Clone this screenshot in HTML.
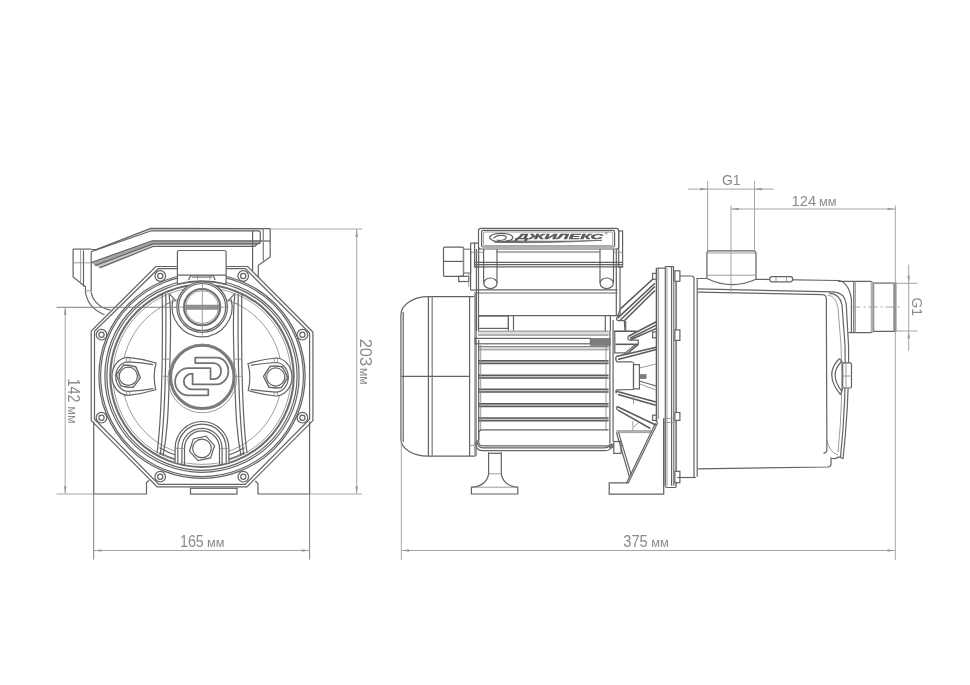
<!DOCTYPE html>
<html><head><meta charset="utf-8"><title>Pump dimensions</title>
<style>
html,body{margin:0;padding:0;background:#fff;}
body{width:970px;height:685px;overflow:hidden;font-family:"Liberation Sans",sans-serif;}
svg{display:block;will-change:transform}
svg *{fill:none}
.m{stroke:#636363;stroke-width:1.2}
.t{stroke:#8a8a8a;stroke-width:.85}
.k{stroke:#5a5a5a;stroke-width:1.55}
.k3{stroke:#6e6e6e;stroke-width:2.1}
.k2{stroke:#777;stroke-width:.8;fill:#9a9a9a}
.f0{fill:#a6a6a6;stroke:none}
.f1{fill:#c8c8c8;stroke:none}
.f2{fill:#dcdcdc;stroke:none}
.g{stroke:#858585;stroke-width:1.3}
.fl{stroke:#9a9a9a;stroke-width:2.8}
.d2{stroke:#808080;stroke-width:1}
.d{stroke:#9c9c9c;stroke-width:.9}
.ar{fill:#9a9a9a;stroke:none}
.ring{stroke:#7a7a7a;stroke-width:3}
.logo{stroke:#727272;stroke-width:1.75;stroke-linejoin:round}
.hatch{fill:#7d7d7d;stroke:#6a6a6a;stroke-width:.6}
.lg{stroke:#666;stroke-width:1.2}
.band{fill:#b0b0b0;stroke:none}
.band2{fill:#8a8a8a;stroke:none}
.blob{fill:#777;stroke:#666;stroke-width:.8}
.lgf{fill:#666;stroke:#666;stroke-width:.7}
.lg2{stroke:#666;stroke-width:.9}
.tx{fill:#8a8a8a;stroke:none;font-family:"Liberation Sans",sans-serif}
text{font-family:"Liberation Sans",sans-serif}
</style></head><body>
<svg width="970" height="685" viewBox="0 0 970 685">
<rect x="0" y="0" width="970" height="685" style="fill:#fff"/>
<g id="leftview">
<path class="m" d="M85.3 291 C86.5 300.5 92.5 310 104.6 314.8" />
<path class="m" d="M91.1 291.5 C92 299.5 98.5 307.5 110.4 310.1" />
<path class="t" d="M85.3 290.8L91.1 290.8"/>
<path class="m" d="M73.1 249.1L73.1 276.9L85.5 286.8L85.5 290.5" />
<path class="m" d="M73.1 249.1L91.5 249.1"/>
<path class="t" d="M80.6 249.1L80.6 284.5"/>
<path class="m" d="M83.5 250.5L83.5 286.7"/>
<path class="m" d="M91.2 251.6L91.2 291.0"/>
<path class="t" d="M73.1 262.8L91.2 262.8"/>
<path class="f0" d="M91.2 262.5L152.3 240.8L260.3 240.8L260.3 243.9L152.8 243.9L95.0 265.6Z" />
<path class="f1" d="M95.0 265.6L152.8 243.9L257.0 243.9L255.0 246.5L153.1 246.5L99.5 267.9Z" />
<path class="f2" d="M96.2 249.6L150.6 228.4L263.3 228.6L263.3 230.8L151.4 230.8L91.2 251.8Z" />
<path class="m" d="M91.5 249.6L96.2 249.6L150.6 228.4L270.2 228.6" />
<path class="m" d="M91.2 251.8 L151.4 230.8 L258 230.8 Q260.3 230.8 260.3 233 L260.3 241.5 Q260.3 243.9 257.8 243.9" />
<path class="m" d="M91.2 262.5L152.3 240.8L260.3 240.8L270.2 241.1" />
<path class="m" d="M95.0 265.6L152.8 243.9L258.0 243.9" />
<path class="m" d="M99.5 267.9L153.1 246.5L255.0 246.5L257.0 243.9" />
<path class="m" d="M270.2 228.6L270.2 257.0L258.3 265.3L258.3 278.0" />
<path class="m" d="M252.6 230.8L252.6 271.0"/>
<path class="g" d="M263.3 228.6L263.3 260.8"/>
<path class="m" d="M155.8 266.5L247.7 266.5L312.9 332.0L312.9 420.6L246.9 486.9L157.2 486.9L91.2 420.6L91.2 331.0Z" />
<path class="m" d="M158.3 268.7L245.4 268.7L309.6 333.0L309.6 419.2L245.2 484.3L158.8 484.3L94.5 419.2L94.5 331.2Z" />
<ellipse class="m" cx="202.0" cy="375.9" rx="103.1" ry="102.4"/>
<ellipse class="m" cx="202.0" cy="375.9" rx="101.4" ry="100.7"/>
<ellipse class="m" cx="202.0" cy="375.9" rx="97.1" ry="96.4"/>
<ellipse class="m" cx="202.0" cy="375.9" rx="95.1" ry="94.4"/>
<ellipse class="k3" cx="202.0" cy="375.9" rx="91.7" ry="91.1"/>
<ellipse class="t" cx="202.0" cy="375.9" rx="89.1" ry="88.5"/>
<circle class="t" cx="202.0" cy="375.9" r="80.0" />
<circle class="m" cx="160.3" cy="276.0" r="5.3" style="fill:#fff"/>
<circle class="m" cx="160.3" cy="276.0" r="2.6" />
<circle class="m" cx="243.2" cy="276.0" r="5.3" style="fill:#fff"/>
<circle class="m" cx="243.2" cy="276.0" r="2.6" />
<circle class="m" cx="101.5" cy="334.7" r="5.3" style="fill:#fff"/>
<circle class="m" cx="101.5" cy="334.7" r="2.6" />
<circle class="m" cx="302.4" cy="334.7" r="5.3" style="fill:#fff"/>
<circle class="m" cx="302.4" cy="334.7" r="2.6" />
<circle class="m" cx="101.5" cy="417.7" r="5.3" style="fill:#fff"/>
<circle class="m" cx="101.5" cy="417.7" r="2.6" />
<circle class="m" cx="302.4" cy="417.7" r="5.3" style="fill:#fff"/>
<circle class="m" cx="302.4" cy="417.7" r="2.6" />
<circle class="m" cx="160.2" cy="476.7" r="5.3" style="fill:#fff"/>
<circle class="m" cx="160.2" cy="476.7" r="2.6" />
<circle class="m" cx="243.3" cy="476.7" r="5.3" style="fill:#fff"/>
<circle class="m" cx="243.3" cy="476.7" r="2.6" />
<path class="m" d="M177.4 284 L177.4 252.5 Q177.4 250.5 179.4 250.5 L224.1 250.5 Q226.1 250.5 226.1 252.5 L226.1 284 A95.1 94.4 0 0 0 177.4 284 Z" style="fill:#fff"/>
<path class="m" d="M177.4 275.1L226.1 275.1"/>
<path class="m" d="M188.6 280 L190.5 276 L213.5 276 L215.1 280" />
<path class="t" d="M197.5 276.0L197.5 279.5"/>
<path class="t" d="M210.0 276.0L210.0 279.5"/>
<path class="t" d="M192.0 277.5L212.0 277.5"/>
<path class="m" d="M173.1 299.1 A30 30 0 1 0 231.1 299.1" />
<circle class="m" cx="202.1" cy="307.1" r="25.3" style="fill:#fff"/>
<circle class="m" cx="202.1" cy="307.1" r="23.6" />
<circle class="k3" cx="202.1" cy="307.1" r="18.1" />
<circle class="t" cx="202.1" cy="307.1" r="16.4" />
<rect class="k2" x="186.0" y="305.2" width="32.2" height="4.0" rx="0" />
<path class="t" d="M202.3 282.3L202.3 335.4"/>
<path class="t" d="M175.3 307.1L228.4 307.1"/>
<path class="m" d="M162.2 293.4 C162.7 340 162.7 410 157.0 453" />
<path class="m" d="M165.8 294 C166.2 340 166.2 410 160.2 455" />
<path class="m" d="M169.0 294.7 C172.0 312 170.5 345 169.4 376 S168.0 430 163.0 456" />
<path class="t" d="M162.7 359.2L169.7 359.2"/>
<path class="t" d="M162.7 376.3L169.4 376.3"/>
<path class="t" d="M165.8 303.3L171.4 303.3"/>
<path class="m" d="M169.0 293.4L176.3 301.3"/>
<path class="m" d="M241.8 293.4 C241.3 340 241.3 410 247.0 453" />
<path class="m" d="M238.2 294 C237.8 340 237.8 410 243.8 455" />
<path class="m" d="M235.0 294.7 C232.0 312 233.5 345 234.6 376 S236.0 430 241.0 456" />
<path class="t" d="M241.3 359.2L234.3 359.2"/>
<path class="t" d="M241.3 376.3L234.6 376.3"/>
<path class="t" d="M238.2 303.3L232.6 303.3"/>
<path class="m" d="M235.0 293.4L227.7 301.3"/>
<circle class="ring" cx="202.3" cy="376.9" r="31.7" />
<circle class="t" cx="202.3" cy="378.5" r="34.3" />
<path class="logo" d="M195.2 357.7 L216.7 357.7 A11.7 13.3 0 0 1 216.7 384.3 L192.6 384.3 L192.6 373.7 A8.4 7.85 0 0 0 191.9 389.4 L208.3 389.4 L208.3 395.3 L188.2 395.3 A13.1 13.55 0 0 1 188.2 368.2 L210.5 368.2 L210.5 379.2 L213.8 379.2 A7.3 8.05 0 0 0 213.8 363.1 L195.2 363.1 Z" />
<path class="m" d="M156.0 363.0 Q142.0 358.6 128.3 357.3 A16.3 19 0 0 0 128.3 395.3 Q142.0 394.0 155.7 389.8 Q152.5 376.3 156.0 363.0Z" style="fill:#fff"/>
<path class="m" d="M153.2 364.6 Q142.0 362.6 128.3 361.8 A12.6 14.8 0 0 0 128.3 391.4 Q142.0 390.6 153.2 388.6" />
<ellipse class="t" cx="128.3" cy="376.3" rx="10.6" ry="11.6"/>
<circle class="m" cx="128.3" cy="376.3" r="9.1" />
<path class="m" d="M140.5 378.0L132.9 387.7L120.7 386.0L116.1 374.6L123.7 364.9L135.9 366.6Z" />
<path class="t" d="M126.5 357.4L126.5 361.8"/>
<path class="t" d="M126.5 391.4L126.5 395.2"/>
<path class="t" d="M129.8 357.4L129.8 361.8"/>
<path class="t" d="M129.8 391.4L129.8 395.2"/>
<path class="m" d="M248.0 363.7 Q262.0 359.3 275.7 358.0 A16.3 19 0 0 1 275.7 396.0 Q262.0 394.7 248.3 390.5 Q251.5 377.0 248.0 363.7Z" style="fill:#fff"/>
<path class="m" d="M250.8 365.3 Q262.0 363.3 275.7 362.5 A12.6 14.8 0 0 1 275.7 392.1 Q262.0 391.3 250.8 389.3" />
<ellipse class="t" cx="275.7" cy="377.0" rx="10.6" ry="11.6"/>
<circle class="m" cx="275.7" cy="377.0" r="9.1" />
<path class="m" d="M263.4 376.4L270.1 366.0L282.4 366.7L288.0 377.6L281.3 388.0L269.0 387.3Z" />
<path class="t" d="M277.5 358.1L277.5 362.5"/>
<path class="t" d="M277.5 392.1L277.5 395.9"/>
<path class="t" d="M274.2 358.1L274.2 362.5"/>
<path class="t" d="M274.2 392.1L274.2 395.9"/>
<path class="m" d="M177.5 455.7 A83.5 83.5 0 0 1 159.5 447.8" />
<path class="m" d="M177.5 459.9 A87.5 87.5 0 0 1 159.5 452.4" />
<path class="m" d="M226.5 455.7 A83.5 83.5 0 0 0 244.5 447.8" />
<path class="m" d="M226.5 459.9 A87.5 87.5 0 0 0 244.5 452.4" />
<path class="m" d="M175.1 462.5 L175.1 448.4 A26.9 26.9 0 0 1 228.9 448.4 L228.9 462.5" style="fill:#fff"/>
<path class="m" d="M177.8 463.5 L177.8 448.4 A24.2 24.2 0 0 1 226.2 448.4 L226.2 463.5" />
<path class="m" d="M181.9 464.5 L181.9 448.4 A20.1 20.1 0 0 1 222.1 448.4 L222.1 464.5" />
<path class="m" d="M184.5 465 L184.5 448.4 A17.5 17.5 0 0 1 219.5 448.4 L219.5 465" />
<path class="t" d="M175.1 448.4L184.5 448.4"/>
<path class="t" d="M219.5 448.4L228.9 448.4"/>
<path class="m" d="M214.5 445.7L210.6 457.9L198.0 460.6L189.5 451.1L193.4 438.9L206.0 436.2Z" />
<circle class="m" cx="202.0" cy="448.4" r="9.3" />
<path class="m" d="M93.7 421.5L93.7 494.0L146.5 494.0L146.5 482.6L149.2 480.3" />
<path class="m" d="M309.6 421.5L309.6 494.0L258.0 494.0L258.0 483.8L255.2 480.8" />
<rect class="m" x="190.5" y="488.3" width="46.5" height="5.8" rx="0" />
</g>
<g id="rightview">
<path class="m" d="M475.2 296.7 L428.4 296.7 A27.5 18.2 0 0 0 400.9 314.9 L400.9 439.3 A27 16.8 0 0 0 428 456.1 L475.2 456.1" />
<path class="m" d="M403.2 312.0L403.2 442.0"/>
<path class="m" d="M428.4 296.7L428.4 456.1"/>
<path class="g" d="M432.2 296.7L432.2 456.1"/>
<path class="m" d="M469.6 296.7L469.6 456.1"/>
<path class="m" d="M401.3 376.4L469.6 376.4"/>
<path class="t" d="M469.6 445.4L475.2 445.4"/>
<path class="fl" d="M475.6 292.0L475.6 456.1"/>
<path class="k" d="M478.2 331.4L608.5 331.4"/>
<path class="k" d="M478.2 334.7L608.5 334.7"/>
<rect class="m" x="475.2" y="338.4" width="115.2" height="5.4" rx="0" />
<path class="k" d="M478.2 347.1L608.5 347.1"/>
<path class="m" d="M478.2 349.6L608.5 349.6"/>
<rect class="f1" x="478.2" y="360.8" width="130.3" height="2.7" rx="0" />
<path class="k" d="M478.2 360.8L608.5 360.8"/>
<path class="k" d="M478.2 363.5L608.5 363.5"/>
<rect class="f1" x="478.2" y="375.2" width="130.3" height="2.7" rx="0" />
<path class="k" d="M478.2 375.2L608.5 375.2"/>
<path class="k" d="M478.2 377.9L608.5 377.9"/>
<rect class="f1" x="478.2" y="389.2" width="130.3" height="2.7" rx="0" />
<path class="k" d="M478.2 389.2L608.5 389.2"/>
<path class="k" d="M478.2 391.9L608.5 391.9"/>
<rect class="f1" x="478.2" y="403.7" width="130.3" height="2.7" rx="0" />
<path class="k" d="M478.2 403.7L608.5 403.7"/>
<path class="k" d="M478.2 406.4L608.5 406.4"/>
<rect class="f1" x="478.2" y="418.0" width="130.3" height="2.7" rx="0" />
<path class="k" d="M478.2 418.0L608.5 418.0"/>
<path class="k" d="M478.2 420.7L608.5 420.7"/>
<rect class="f2" x="478.2" y="347.1" width="130.3" height="2.5" rx="0" />
<rect class="f2" x="478.2" y="331.4" width="130.3" height="3.3" rx="0" />
<path class="t" d="M480.7 345.0L480.7 430.0"/>
<path class="t" d="M606.0 345.0L606.0 430.0"/>
<path class="m" d="M478.7 340.0L478.7 440.0"/>
<path class="m" d="M608.5 429.8 L482.5 429.8 Q478.7 429.8 478.7 433.5 L478.7 442 Q478.7 445.8 483 445.8 L608.5 445.8" />
<path class="m" d="M477 440 Q477 447.9 483 447.9 L604 447.9 Q609 447.9 610 444" />
<path class="m" d="M475.7 442 Q475.7 450.7 482 450.7 L605 450.7 Q610.5 450.7 611.5 446" />
<path class="m" d="M488.9 453.3L501.3 453.3"/>
<path class="m" d="M609.9 331.0L609.9 443.0"/>
<path class="m" d="M613.1 320.0L613.1 441.5"/>
<rect class="hatch" x="590.4" y="338.4" width="19.8" height="7.1" rx="0" />
<path class="m" d="M488.6 452.2 L488.6 473.8 Q487 485 473 487.2 L471.4 487.2 L471.4 494 L517.8 494 L517.8 487.2 L516 487.2 Q503 485 501.3 473.8 L501.3 452.2" />
<path class="t" d="M471.4 487.2L517.8 487.2"/>
<path class="t" d="M488.6 473.8L501.3 473.8"/>
<path class="m" d="M476.4 249.0L476.4 331.0"/>
<path class="m" d="M478.5 249.0L478.5 331.0"/>
<path class="m" d="M616.3 249.0L616.3 316.0"/>
<path class="m" d="M620.0 266.9L620.0 316.0"/>
<path class="m" d="M478.5 315.7L620.0 315.7"/>
<path class="m" d="M497.0 252.0L600.0 252.0"/>
<path class="m" d="M475.0 262.4L622.6 262.4"/>
<path class="m" d="M475.0 264.6L622.6 264.6"/>
<path class="m" d="M475.0 266.9L622.6 266.9"/>
<path class="m" d="M476.4 289.8L617.6 289.8"/>
<path class="m" d="M476.4 293.0L617.6 293.0"/>
<path class="m" d="M483.6 249.0L483.6 283.0"/>
<path class="m" d="M497.0 249.0L497.0 283.0"/>
<ellipse class="m" cx="490.4" cy="283.3" rx="6.6" ry="5.3" style="fill:#fff"/>
<path class="m" d="M600.0 249.0L600.0 283.0"/>
<path class="m" d="M613.5 249.0L613.5 283.0"/>
<ellipse class="m" cx="606.7" cy="283.3" rx="6.6" ry="5.3" style="fill:#fff"/>
<rect class="m" x="474.6" y="243.1" width="4.0" height="23.8" rx="0" />
<rect class="m" x="618.7" y="231.0" width="3.9" height="35.9" rx="0" />
<path class="t" d="M470.6 252.3L483.4 252.3"/>
<path class="t" d="M613.5 252.3L622.6 252.3"/>
<rect class="m" x="478.5" y="228.4" width="140.2" height="20.6" rx="2.5" style="fill:#fff"/>
<rect class="m" x="481.6" y="230.4" width="133.0" height="16.6" rx="1.5" />
<rect class="t" x="483.4" y="232.0" width="129.4" height="13.6" rx="1" />
<ellipse class="lg" cx="501.2" cy="237.6" rx="11.6" ry="4.3"/>
<path class="lg" d="M493.5 238.4 q3 -3.6 9 -3 q5.5 .7 3.2 3.4 q-3 2.4 -9 1.4" />
<text x="516" y="239.4" font-size="7.2" font-weight="bold" font-style="italic" style="fill:#5a5a5a;stroke:#5a5a5a;stroke-width:.35" textLength="87" lengthAdjust="spacingAndGlyphs">ДЖИЛЕКС</text>
<path class="lgf" d="M494 242.4 Q550 243.6 602 240.3 Q550 242 506 240.6" />
<circle class="t" cx="606.3" cy="233.3" r="0.9" />
<rect class="m" x="478.5" y="316.0" width="29.9" height="12.4" rx="0" />
<path class="m" d="M508.4 316.0L508.4 330.5"/>
<path class="m" d="M513.5 316.0L513.5 330.5"/>
<path class="m" d="M605.3 316.0L605.3 331.0"/>
<path class="m" d="M610.4 316.0L610.4 331.0"/>
<rect class="m" x="443.5" y="247.2" width="20.0" height="29.1" rx="1" />
<path class="m" d="M443.5 261.4L463.5 261.4"/>
<rect class="g" x="463.5" y="249.2" width="7.1" height="23.8" rx="0" />
<rect class="m" x="458.7" y="276.3" width="10.0" height="5.2" rx="0" />
<path class="m" d="M470.6 243.1L470.6 290.1"/>
<path class="m" d="M470.6 243.1L474.6 243.1"/>
<path class="t" d="M468.7 273.0L468.7 286.8"/>
<path class="m" d="M470.6 290.1L476.4 290.1"/>
<path class="k" d="M656.5 268.1L656.5 422.5"/>
<path class="t" d="M658.6 268.1L658.6 419.0"/>
<path class="m" d="M656.5 268.1L665.3 268.1"/>
<path class="m" d="M665.3 266.6L673.6 266.6"/>
<path class="m" d="M665.3 266.6L665.3 485.8"/>
<path class="t" d="M667.0 268.0L667.0 485.8"/>
<path class="m" d="M671.6 266.6L671.6 485.8"/>
<path class="m" d="M673.6 266.6L673.6 485.8"/>
<rect class="f1" x="673.6" y="281.3" width="2.6" height="204.5" rx="0" />
<path class="m" d="M676.2 281.3L676.2 485.8"/>
<path class="m" d="M665.3 485.8 Q665.3 487.5 667 487.5 L675 487.5 Q676.2 487.5 676.2 485.8" />
<rect class="m" x="674.9" y="270.8" width="5.0" height="10.5" rx="0" style="fill:#fff"/>
<rect class="m" x="674.9" y="329.9" width="5.0" height="10.5" rx="0" style="fill:#fff"/>
<rect class="m" x="674.9" y="412.5" width="5.0" height="7.9" rx="0" style="fill:#fff"/>
<rect class="m" x="674.9" y="471.3" width="5.0" height="11.4" rx="0" style="fill:#fff"/>
<rect class="m" x="652.6" y="273.4" width="3.9" height="5.9" rx="0" />
<rect class="m" x="652.6" y="331.9" width="3.9" height="5.9" rx="0" />
<rect class="m" x="652.6" y="415.2" width="3.9" height="5.2" rx="0" />
<path class="m" d="M663.7 418.4L663.7 485.8"/>
<path class="t" d="M663.7 418.4L672.9 418.4"/>
<path class="t" d="M663.7 422.5L676.0 422.5"/>
<path class="k" d="M653.2 278.7L620.4 308.9"/>
<path class="k" d="M654.9 283.3L617.7 318.1"/>
<path class="k" d="M654.9 286.5L619.7 320.7"/>
<path class="k" d="M654.9 290.5L624.3 320.7"/>
<path class="m" d="M620.4 308.9 L616.6 318.6 Q616.4 320.7 619.7 320.7 L624.3 320.7 L625 330.6" />
<path class="k" d="M614.2 331.2L636.7 331.2"/>
<path class="m" d="M625.7 321.0L625.7 331.2"/>
<path class="k" d="M628.5 336.2L656.3 321.8"/>
<path class="k" d="M630.0 338.2L656.3 325.1"/>
<path class="k" d="M630.5 339.8L656.3 328.4"/>
<path class="m" d="M628.5 336.2 Q626.8 338.5 629.5 340.2 L638.3 340.2 L638.3 344.3" />
<path class="k" d="M615.4 344.3L638.3 344.3"/>
<path class="k" d="M638.3 344.3L626.1 354.5"/>
<path class="m" d="M636.0 344.3L624.3 353.6"/>
<path class="m" d="M614.2 352.9L626.1 352.9"/>
<path class="m" d="M614.8 331.2L614.8 352.9"/>
<path class="k" d="M616.3 356.6L656.3 347.2"/>
<path class="k" d="M618.0 359.5L656.3 349.6"/>
<path class="m" d="M616.3 356.6 Q614.8 359.5 617 361.9 L632.6 361.9" />
<rect class="m" x="633.5" y="364.6" width="5.9" height="24.3" rx="0" />
<path class="m" d="M633.5 362.0L633.5 389.5"/>
<path class="t" d="M639.4 368.0L656.0 364.0"/>
<path class="m" d="M639.4 381.0L656.0 386.0"/>
<path class="t" d="M640.0 384.0L656.0 390.0"/>
<rect class="hatch" x="639.6" y="374.5" width="6.5" height="4.0" rx="0" />
<path class="k" d="M616.4 391.3L655.8 402.0"/>
<path class="k" d="M618.0 394.5L655.8 405.3"/>
<path class="m" d="M633.5 389.5 L617 389.8 Q615 391 616.4 393.4" />
<path class="t" d="M633.5 396.0L633.5 404.0"/>
<path class="k" d="M617.1 406.5L655.8 425.0"/>
<path class="k" d="M618.0 410.2L650.4 428.5"/>
<path class="m" d="M617.1 406.5 Q615.6 408.5 618 410.2" />
<path class="m" d="M616.4 431.0L651.2 431.0"/>
<path class="t" d="M617.0 432.6L650.0 432.6"/>
<path class="m" d="M657.8 422.5L628.3 482.9L609.2 482.9L609.2 494.1L663.7 494.1L663.7 418.5" />
<path class="m" d="M655.5 423.3L626.5 482.9"/>
<path class="m" d="M616.4 432.3L629.6 477.5"/>
<path class="m" d="M618.6 432.6L631.2 474.6"/>
<path class="t" d="M632.9 421.2L632.9 431.0"/>
<path class="t" d="M634.0 427.0L638.0 423.0"/>
<rect class="m" x="613.8" y="441.5" width="7.2" height="11.9" rx="0" />
<circle class="blob" cx="611.2" cy="446.0" r="2.2" />
<path class="m" d="M679.9 276 L691.5 276 Q694 276 694 278.5 L694 477.5" />
<path class="m" d="M697.2 278.0L697.2 476.8"/>
<path class="m" d="M677.2 477.5L695.8 477.5"/>
<path class="m" d="M696.6 278.5 L706.9 278.5 M756 279.3 L838 280.5 Q848.5 281.5 851.4 299 L851.4 332.7" />
<path class="m" d="M697 288.9 L833.3 291.8 Q844.5 292.5 846.2 303.5 L848.5 345 Q849.5 400 843 459" />
<path class="m" d="M698 292.1 L822.5 294.6 Q826.3 294.8 826.3 299 L826.9 449 Q826.9 453 823.5 453.3" />
<path class="m" d="M829 293.2 Q840 294 842 305 L845 345 Q846.5 400 840.5 457" />
<path class="t" d="M827.5 295 Q836 296 838 308 L841 345 Q843.5 400 838 452" />
<path class="m" d="M698.2 468.8 L828 467 Q831 466.8 831 464 L831 458 Q836 459.5 838.5 457 L843.5 458.5" />
<path class="t" d="M826.9 440 Q829 452 838 455" />
<path class="m" d="M839.5 358.5 Q823.5 374 840.5 394.7" />
<path class="m" d="M841.5 361.5 Q828.5 374.5 842 391.5" />
<path class="m" d="M839.5 358.5L842.7 362.9"/>
<path class="m" d="M840.5 394.7L842.7 388.0"/>
<rect class="m" x="842.7" y="362.9" width="8.8" height="25.1" rx="1.5" style="fill:#fff"/>
<path class="t" d="M842.7 376.0L851.5 376.0"/>
<path class="t" d="M846.0 362.9L846.0 388.0"/>
<path class="m" d="M706.9 278.5 L706.9 252.6 L708.3 250.8 L754.6 250.8 L756 252.6 L756 279.3" style="fill:#fff"/>
<path class="t" d="M706.9 253.0L756.0 253.0"/>
<path class="t" d="M706.9 275.2L756.0 275.2"/>
<path class="m" d="M706.9 278.5 Q731.4 290.3 756 279.3" />
<rect class="m" x="769.8" y="276.6" width="22.8" height="5.2" rx="2.2" style="fill:#fff"/>
<path class="t" d="M776.0 276.6L776.0 281.8"/>
<path class="t" d="M786.5 276.6L786.5 281.8"/>
<path class="m" d="M838 281.3 L870.7 281.3 L873.6 283.1 L873.6 331.3 L870.7 332.7 L848.5 332.7" />
<path class="m" d="M853.8 281.3L853.8 332.7"/>
<path class="t" d="M855.4 281.3L855.4 332.7"/>
<rect class="band" x="870.7" y="282.0" width="2.9" height="50.0" rx="0" />
<path class="m" d="M873.6 283.1 L895.8 283.1 L895.8 331.3 L873.6 331.3" />
<rect class="band2" x="893.3" y="283.1" width="2.5" height="48.2" rx="0" />
</g>
<g id="dims">
<path class="d2" d="M56.6 307.3L176.0 307.3"/>
<path class="d" d="M56.6 494.0L93.7 494.0"/>
<path class="d" d="M65.2 307.5L65.2 493.6"/>
<path class="ar" d="M65.2 307.3L66.5 314.8L63.9 314.8Z"/>
<path class="ar" d="M65.2 493.8L63.9 486.3L66.5 486.3Z"/>
<path class="d" d="M270.2 229.0L362.0 229.0"/>
<path class="d" d="M309.6 494.0L362.0 494.0"/>
<path class="d" d="M356.7 229.5L356.7 493.6"/>
<path class="ar" d="M356.7 229.4L358.0 236.9L355.4 236.9Z"/>
<path class="ar" d="M356.7 493.8L355.4 486.3L358.0 486.3Z"/>
<path class="d2" d="M93.7 494.0L93.7 559.6"/>
<path class="d2" d="M309.6 494.0L309.6 559.6"/>
<path class="d" d="M94.0 550.5L309.3 550.5"/>
<path class="ar" d="M94.0 550.5L101.5 549.2L101.5 551.8Z"/>
<path class="ar" d="M309.3 550.5L301.8 551.8L301.8 549.2Z"/>
<path class="d" d="M401.3 439.0L401.3 560.0"/>
<path class="d" d="M895.3 205.4L895.3 560.0"/>
<path class="d" d="M401.6 550.5L895.0 550.5"/>
<path class="ar" d="M401.6 550.5L409.1 549.2L409.1 551.8Z"/>
<path class="ar" d="M895.0 550.5L887.5 551.8L887.5 549.2Z"/>
<path class="d" d="M731.0 205.4L731.0 294.0"/>
<path class="d" d="M731.3 209.0L895.0 209.0"/>
<path class="ar" d="M731.3 209.0L738.8 207.7L738.8 210.3Z"/>
<path class="ar" d="M895.0 209.0L887.5 210.3L887.5 207.7Z"/>
<path class="d" d="M707.6 181.0L707.6 251.0"/>
<path class="d" d="M754.5 181.0L754.5 251.0"/>
<path class="d" d="M688.0 189.1L773.8 189.1"/>
<path class="ar" d="M707.6 189.1L700.1 190.4L700.1 187.8Z"/>
<path class="ar" d="M754.5 189.1L762.0 187.8L762.0 190.4Z"/>
<path class="d" d="M873.0 283.3L917.3 283.3"/>
<path class="d" d="M895.0 331.0L917.3 331.0"/>
<path class="d" d="M908.7 264.6L908.7 350.8"/>
<path class="ar" d="M908.7 283.3L907.4 275.8L910.0 275.8Z"/>
<path class="ar" d="M908.7 331.0L910.0 338.5L907.4 338.5Z"/>
<path class="d" d="M851.6 307H902.5" stroke-dasharray="9 3 2 3"/>
</g>
<text class="tx" x="180" y="546.5" font-size="16" textLength="23.8" lengthAdjust="spacingAndGlyphs">165</text>
<text class="tx" x="207" y="546.5" font-size="12.7" textLength="17.5" lengthAdjust="spacingAndGlyphs">мм</text>
<text class="tx" x="623.2" y="547.2" font-size="16" textLength="24.6" lengthAdjust="spacingAndGlyphs">375</text>
<text class="tx" x="651.2" y="547.2" font-size="12.7" textLength="17.5" lengthAdjust="spacingAndGlyphs">мм</text>
<text class="tx" x="791.5" y="205.5" font-size="15" textLength="24.6" lengthAdjust="spacingAndGlyphs">124</text>
<text class="tx" x="819.0" y="205.5" font-size="12.7" textLength="17.5" lengthAdjust="spacingAndGlyphs">мм</text>
<text class="tx" x="722" y="185.2" font-size="14.5" textLength="18.6" lengthAdjust="spacingAndGlyphs">G1</text>
<g transform="translate(67.7 378.4) rotate(90)">
<text class="tx" x="0" y="0" font-size="16.5" textLength="24" lengthAdjust="spacingAndGlyphs">142</text>
<text class="tx" x="27.8" y="0" font-size="12.7" textLength="17.5" lengthAdjust="spacingAndGlyphs">мм</text>
</g>
<g transform="translate(360.1 338.7) rotate(90)">
<text class="tx" x="0" y="0" font-size="17" textLength="27.5" lengthAdjust="spacingAndGlyphs">203</text>
<text class="tx" x="29.3" y="0" font-size="12.7" textLength="16.6" lengthAdjust="spacingAndGlyphs">мм</text>
</g>
<g transform="translate(911.9 297.6) rotate(90)">
<text class="tx" x="0" y="0" font-size="14.5" textLength="18.4" lengthAdjust="spacingAndGlyphs">G1</text>
</g>
</svg>
</body></html>
